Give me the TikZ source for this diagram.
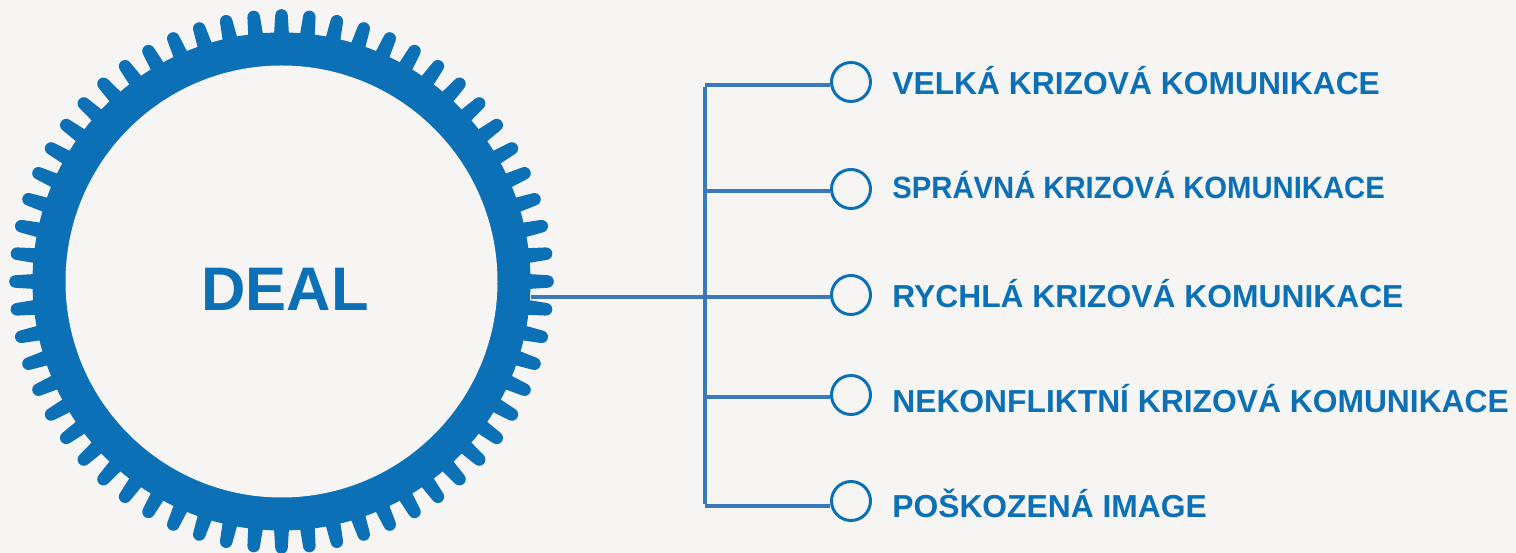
\documentclass[tikz,border=0pt]{standalone}
\usepackage{fontspec}
\setmainfont{Liberation Sans}
\definecolor{bg}{RGB}{246,245,243}
\definecolor{gearblue}{RGB}{12,112,183}
\definecolor{lineblue}{RGB}{58,120,190}
\begin{document}
\begin{tikzpicture}[x=0.02cm,y=-0.02cm,
  ring/.style={circle,draw=gearblue,line width=1.7pt,fill=bg,minimum size=0.78cm,inner sep=0pt},
  label/.style={anchor=base west,text=gearblue,font=\fontsize{18.1}{21}\selectfont\bfseries,inner sep=0pt},
  conn/.style={draw=lineblue,line width=2.3pt}]
\fill[bg] (0,0) rectangle (1516,553);
\useasboundingbox (0,0) rectangle (1516,553);
% gear
\begin{scope}[shift={(281.5,281.5)}]
  \fill[gearblue] (0,0) circle[radius=249*0.02cm];
  \foreach \a in {0,6,...,354}
    \fill[gearblue,rotate=\a] (238,-8) -- (266,-6.3) arc[start angle=-90,end angle=90,radius=6.3] -- (238,8) -- cycle;
  \fill[bg] (0,0) circle[radius=216*0.02cm];
\end{scope}
\node[text=gearblue,font=\fontsize{35}{40}\selectfont\bfseries,anchor=base,inner sep=0pt] (deal) at (285,311) {DEAL};
% connectors
\coordinate (g) at (531,297);
\coordinate (v1) at (705,85);
\coordinate (v2) at (705,191);
\coordinate (v3) at (705,297);
\coordinate (v4) at (705,397);
\coordinate (v5) at (705,506);
\node[ring] (c1) at (851,82) {};
\node[ring] (c2) at (851,189) {};
\node[ring] (c3) at (851,295) {};
\node[ring] (c4) at (851,395) {};
\node[ring] (c5) at (851,501) {};
\draw[conn] (g) -- (v3 -| c3.west);
\draw[conn] ([yshift=-1.15pt]v1) -- ([yshift=1.15pt]v5);
\draw[conn] (v1) -- (v1 -| c1.west);
\draw[conn] (v2) -- (v2 -| c2.west);
\draw[conn] (v4) -- (v4 -| c4.west);
\draw[conn] (v5) -- (v5 -| c5.west);
\node[label] (t1) at (892,95) {VELKÁ KRIZOVÁ KOMUNIKACE};
\node[label] (t2) at (892,199) {\scalebox{0.92}[0.97]{SPRÁVNÁ KRIZOVÁ KOMUNIKACE}};
\node[label] (t3) at (892,308) {RYCHLÁ KRIZOVÁ KOMUNIKACE};
\node[label] (t4) at (892,413) {NEKONFLIKTNÍ KRIZOVÁ KOMUNIKACE};
\node[label] (t5) at (892,518) {POŠKOZENÁ IMAGE};
\end{tikzpicture}
\end{document}
